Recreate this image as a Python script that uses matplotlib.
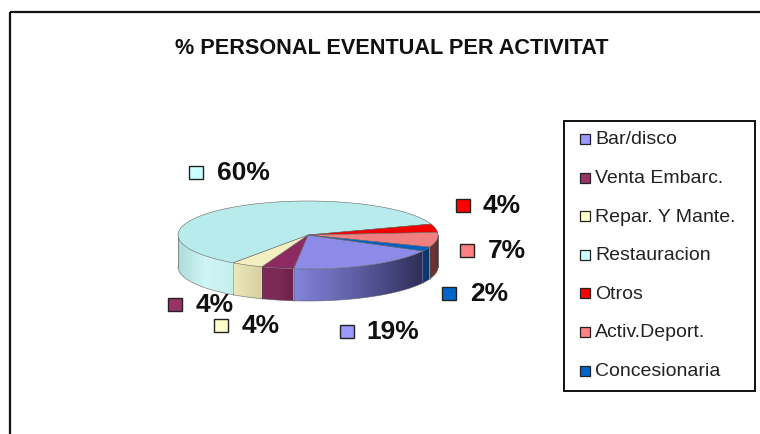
"""% personal eventual per activitat: 3D pie drawn on a pixel-sized axis."""

import numpy as np
import matplotlib
matplotlib.use("Agg")
import matplotlib.pyplot as plt
from matplotlib.colors import LinearSegmentedColormap
from matplotlib.patches import Polygon, Rectangle

plt.rcParams["font.family"] = ["Liberation Sans", "DejaVu Sans"]

TITLE = "% PERSONAL EVENTUAL PER ACTIVITAT"
categories = ["Bar/disco", "Venta Embarc.", "Repar. Y Mante.", "Restauracion",
              "Otros", "Activ.Deport.", "Concesionaria"]
values = [19, 4, 4, 60, 4, 7, 2]

legend_colors = ["#9999ff", "#993366", "#ffffcc", "#ccffff", "#ff0000", "#ff8080", "#0066cc"]
top_colors = ["#8c8ce8", "#8e2a62", "#f3efc0", "#b8ecec", "#f20000", "#f08080", "#0060bf"]
side_left = ["#8484dc", "#7c2a58", "#ece8b8", "#aedcdc", "#a00000", "#6a3434", "#0a3a70"]
side_mid = ["#5c5ca0", "#7c2a58", "#e0dcae", "#d0f6f6", "#a00000", "#6a3434", "#0a3a70"]
side_right = ["#2e2e58", "#6a2048", "#d4d09e", "#c4eeee", "#a00000", "#5c2c2c", "#082e5c"]

# label positions in pixels: swatch centre x, y and text left x
label_pos = [(347, 332, 366), (175, 305, 196), (221, 326, 242), (196, 173, 217),
             (463, 206, 483), (467, 251, 488), (449, 294, 470)]

CX, CY, RX, RY, DEPTH = 308, 236, 130, 34, 32
START = -28


def rim(a0, a1, dy=0.0, n=80):
    t = np.radians(np.linspace(a0, a1, n))
    return np.column_stack([CX + RX * np.cos(t), CY - RY * np.sin(t) + dy])


fig = plt.figure(figsize=(7.6, 4.35), dpi=100)
ax = fig.add_axes([0, 0, 1, 1])
ax.set_xlim(0, 760)
ax.set_ylim(435, 0)
ax.axis("off")

# outer chart frame
ax.plot([10, 10], [435, 13], color="#111111", lw=1.6, solid_capstyle="butt")
ax.plot([10, 760], [13, 13], color="#111111", lw=1.6, solid_capstyle="butt")

ax.text(392, 48, TITLE, fontsize=15.6, fontweight="bold", ha="center", va="center", color="#111111")

# slice angles run clockwise from START
spans = []
angle = START
for v in values:
    spans.append((angle, angle - v * 3.6))
    angle -= v * 3.6

# side walls, only the front half of the pie shows
for i, (a0, a1) in enumerate(spans):
    if a0 <= -360:
        a0, a1 = a0 + 360, a1 + 360
    a_hi = min(a0, 0)
    a_lo = max(a1, -180)
    # slice crossing the 0 degree line
    if a1 < -360 < a0:
        a_hi, a_lo = 0, a1 + 360
    if a_hi <= a_lo:
        continue
    top = rim(a_hi, a_lo)
    bot = rim(a_lo, a_hi, DEPTH)
    wall = Polygon(np.vstack([top, bot]), closed=True, facecolor="none", edgecolor="none")
    ax.add_patch(wall)
    cmap = LinearSegmentedColormap.from_list(f"s{i}", [side_left[i], side_mid[i], side_right[i]])
    x0, x1 = top[:, 0].min(), top[:, 0].max()
    im = ax.imshow(np.linspace(0, 1, 128)[None, :], cmap=cmap, aspect="auto",
                   extent=(x0, x1, CY + RY + DEPTH + 2, CY - 2), zorder=2)
    im.set_clip_path(wall)
    ax.plot(*bot.T, color="#555555", lw=0.5, alpha=0.7, zorder=3)
    ax.plot([top[0, 0], bot[-1, 0]], [top[0, 1], bot[-1, 1]], color="#444444", lw=0.4, alpha=0.6, zorder=3)
ax.plot([CX - RX, CX - RX], [CY, CY + DEPTH], color="#666666", lw=0.5, zorder=3)
ax.plot([CX + RX, CX + RX], [CY, CY + DEPTH], color="#444444", lw=0.5, zorder=3)
ax.set_xlim(0, 760)
ax.set_ylim(435, 0)

# top faces
for i, (a0, a1) in enumerate(spans):
    pts = np.vstack([[[CX, CY]], rim(a0, a1)])
    ax.add_patch(Polygon(pts, closed=True, facecolor=top_colors[i], edgecolor="#666666", lw=0.4, zorder=4))

# data labels with their swatches
for i, v in enumerate(values):
    sx, sy, tx = label_pos[i]
    ax.add_patch(Rectangle((sx - 7, sy - 6.5), 14, 13, facecolor=legend_colors[i],
                           edgecolor="#222222", lw=1.0, zorder=5))
    ax.text(tx, sy, f"{v}%", fontsize=19, fontweight="bold", va="center", ha="left",
            color="#111111", zorder=6)

# legend box
ax.add_patch(Rectangle((564, 122), 191, 270, facecolor="white", edgecolor="#111111", lw=1.4, zorder=5))
for i, name in enumerate(categories):
    y = 140 + 38.6 * i
    ax.add_patch(Rectangle((580, y - 5), 10, 10, facecolor=legend_colors[i], edgecolor="#222222",
                           lw=0.9, zorder=6))
    ax.text(595, y, name, fontsize=14, va="center", ha="left", color="#222222", zorder=6)

fig.savefig("out.png", dpi=100)
plt.close(fig)
